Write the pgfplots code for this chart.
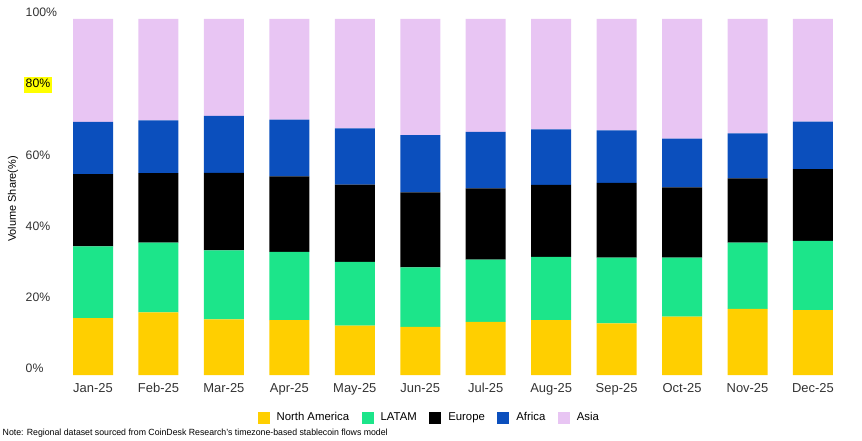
\documentclass[border=0pt]{standalone}
\usepackage{pgfplots}
\pgfplotsset{compat=1.18}
\usepackage{pgfplotstable}
\usepackage{graphicx}
\usepackage{fontspec}
\setmainfont{Liberation Sans}
\definecolor{cNA}{HTML}{FFCF00}
\definecolor{cLA}{HTML}{1CE58A}
\definecolor{cEU}{HTML}{000000}
\definecolor{cAF}{HTML}{0B4FBD}
\definecolor{cAS}{HTML}{E8C5F3}
\definecolor{txt}{HTML}{333333}
\definecolor{hl}{HTML}{FFFF00}
\pgfplotstableread{
x NA LA EU AF AS
0 16.0 20.1 20.3 14.7 28.9
1 17.6 19.6 19.5 14.8 28.5
2 15.6 19.4 21.8 16.0 27.2
3 15.4 19.2 21.2 15.9 28.3
4 13.9 17.9 21.7 15.8 30.7
5 13.5 16.7 21.1 16.1 32.6
6 14.9 17.5 20.0 15.9 31.7
7 15.4 17.8 20.2 15.6 31.0
8 14.5 18.5 21.0 14.7 31.3
9 16.4 16.6 19.7 13.7 33.6
10 18.6 18.6 18.0 12.7 32.1
11 18.2 19.5 20.1 13.4 28.8
}\data
\begin{document}
\begin{tikzpicture}
\path[use as bounding box] (-60.3bp,-66bp) rectangle (801.7bp,375bp);
\begin{axis}[
  scale only axis, clip=false,
  width=785.4bp, height=356bp,
  ybar stacked, bar width=40bp,
  xmin=-0.5, xmax=11.5, ymin=0, ymax=100,
  axis line style={draw=none},
  major tick length=0pt,
  xtick=data,
  xticklabels={Jan-25,Feb-25,Mar-25,Apr-25,May-25,Jun-25,Jul-25,Aug-25,Sep-25,Oct-25,Nov-25,Dec-25},
  ytick={0,20,40,60,80,100},
  yticklabels={0\%,20\%,40\%,60\%,{\setlength{\fboxsep}{1.3pt}\hspace*{-1.3pt}\colorbox{hl}{\strut\textcolor{black}{80\%}}},100\%},
  /pgf/number format/assume math mode=true,
  xticklabel style={font=\fontsize{13}{15}\selectfont, text=txt, anchor=base, inner sep=0pt, yshift=-17.3bp},
  yticklabel style={font=\fontsize{12.3}{14}\selectfont, text=txt, anchor=base west, inner sep=0pt, xshift=-34.8bp, yshift=2.3bp},
  every axis y label/.style={at={([xshift=-47.3bp,yshift=-2bp]axis description cs:0,0.5)}, rotate=90, anchor=center, font=\fontsize{11}{13}\selectfont, text=black},
  ylabel={Volume Share(\%)},
  legend style={at={(0.4698,-0.1194)}, anchor=center, draw=none, fill=none,
    font=\fontsize{11.4}{13}\selectfont, legend columns=-1, inner sep=0pt,
    /tikz/every even column/.append style={column sep=10.5bp},
    legend cell align=left},
  sq/.style={legend image code/.code={\fill[##1] (0bp,-6bp) rectangle (12bp,6bp); \path (17bp,0bp);}},
]
\addplot[fill=cNA, draw=none, sq] table[x=x,y=NA]{\data};
\addplot[fill=cLA, draw=none, sq] table[x=x,y=LA]{\data};
\addplot[fill=cEU, draw=none, sq] table[x=x,y=EU]{\data};
\addplot[fill=cAF, draw=none, sq] table[x=x,y=AF]{\data};
\addplot[fill=cAS, draw=none, sq] table[x=x,y=AS]{\data};
\legend{North America, LATAM, Europe, Africa, Asia}
\node[anchor=base west, inner sep=0pt, font=\fontsize{9}{10}\selectfont, text=black] at (axis description cs:-0.0736,-0.1699) {\resizebox{385bp}{\height}{Note: Regional dataset sourced from CoinDesk Research's timezone-based stablecoin flows model}};
\end{axis}
\end{tikzpicture}
\end{document}
